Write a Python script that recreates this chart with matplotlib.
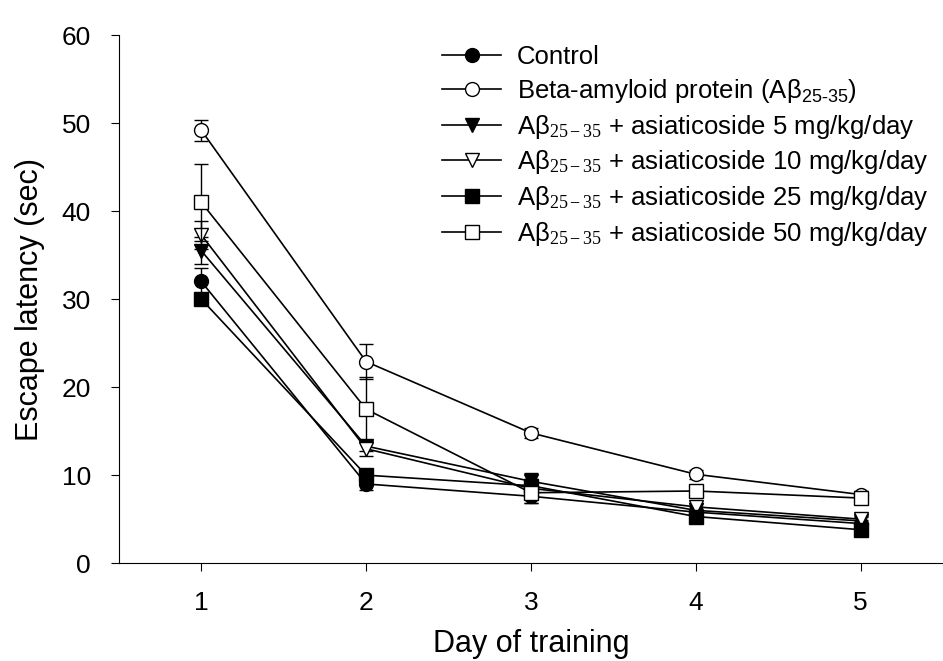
import matplotlib
matplotlib.use("Agg")
from matplotlib import pyplot as plt

plt.rcParams['font.family'] = ['Liberation Sans', 'DejaVu Sans']
plt.rcParams['mathtext.fontset'] = 'custom'
plt.rcParams['mathtext.rm'] = 'Liberation Serif'
plt.rcParams['mathtext.it'] = 'Liberation Serif:italic'

days = [1, 2, 3, 4, 5]

control = [32.0, 9.0, 7.6, 5.8, 4.5]
control_err = [1.5, 0.7, 0.8, 0.4, 0.4]
abeta = [49.2, 22.9, 14.8, 10.1, 7.8]
abeta_err = [1.2, 2.0, 0.6, 0.5, 0.4]
as5 = [35.5, 13.3, 9.3, 6.0, 4.8]
as5_err = [1.5, 0.6, 1.0, 0.4, 0.4]
as10 = [37.3, 13.0, 8.5, 6.4, 5.0]
as10_err = [1.6, 0.8, 1.0, 0.4, 0.4]
as25 = [30.0, 10.0, 8.8, 5.3, 3.8]
as25_err = [0.5, 0.5, 0.8, 0.4, 0.4]
as50 = [41.0, 17.5, 8.0, 8.2, 7.4]
as50_err = [4.4, 3.6, 1.2, 0.5, 0.4]

doses = ['5', '10', '25', '50']
ab = 'A\u03b2$_{\\mathrm{25-35}}$'
labels = ['Control',
          r'Beta-amyloid protein (A$\mathregular{\beta_{25\text{-}35}}$)']
labels += [ab + ' + asiaticoside ' + d + ' mg/kg/day' for d in doses]

series = [(control, control_err, 'o', 'black'),
          (abeta, abeta_err, 'o', 'white'),
          (as5, as5_err, 'v', 'black'),
          (as10, as10_err, 'v', 'white'),
          (as25, as25_err, 's', 'black'),
          (as50, as50_err, 's', 'white')]

fig = plt.figure(figsize=(9.43, 6.61), dpi=100)
ax = fig.add_axes([0.126, 0.148, 0.874, 0.799])

for (y, e, m, fc), lab in zip(series, labels):
    ax.errorbar(days, y, yerr=e, fmt='none', ecolor='black', elinewidth=1.0,
                capsize=5, capthick=1.0)
    ax.plot(days, y, marker=m, markersize=10, mfc=fc, mec='black',
            color='black', lw=1.2, label=lab)

ax.set_xlim(0.5, 5.5)
ax.set_ylim(0, 60)
ax.set_xticks(days)
ax.set_yticks([0, 10, 20, 30, 40, 50, 60])
ax.spines['top'].set_visible(False)
ax.spines['right'].set_visible(False)
ax.tick_params(direction='out', length=6, labelsize=19, pad=14)
ax.set_xlabel('Day of training', fontsize=22, labelpad=10)
ax.set_ylabel('Escape latency (sec)', fontsize=22, labelpad=12)

ax.legend(loc='upper left', bbox_to_anchor=(0.38, 1.0), frameon=False,
          fontsize=18.5, handlelength=2.3, handletextpad=0.6,
          labelspacing=0.3, borderaxespad=0)

fig.savefig('out.png', dpi=100)
